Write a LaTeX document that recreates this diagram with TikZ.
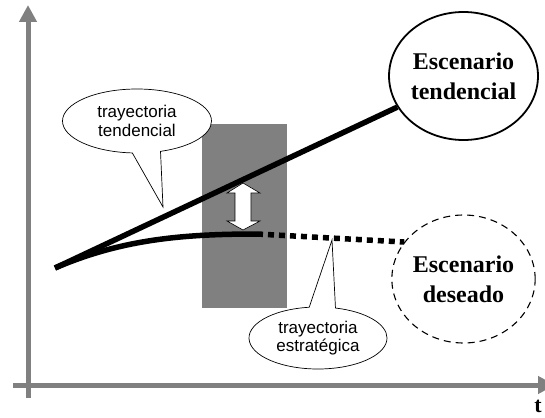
\documentclass[tikz,border=0pt]{standalone}
\usepackage{fontspec}
\setmainfont{Liberation Serif}
\setsansfont{Liberation Sans}
\usepackage{tikz}
\usetikzlibrary{shapes.geometric, shapes.callouts, arrows.meta}
\usetikzlibrary{positioning}

\begin{document}
\begin{tikzpicture}[x=1pt, y=-1pt,
    axis/.style = {line width=5pt, draw=black!50, -{Triangle[width=17pt,length=17pt]}},
    traj/.style = {line width=5.5pt},
    scen/.style = {draw, ellipse, minimum width=137pt, minimum height=128pt, inner sep=0pt,
                   align=center, font=\fontsize{24}{30}\selectfont\bfseries},
    bubble/.style = {draw, ellipse callout, fill=white, line width=0.7pt, inner sep=0pt,
                     callout pointer arc=22, align=center,
                     font=\sffamily\fontsize{17}{18.5}\selectfont}]
  \useasboundingbox (0,0) rectangle (545,417);

  % axes
  \coordinate (ybot) at (28,398);
  \coordinate (ytop) at (28,5);
  \coordinate (xleft) at (13,385);
  \coordinate (xright) at (555,385);
  \draw[axis] (ybot) -- (ytop);
  \draw[axis] (xleft) -- (xright);
  \node[font=\fontsize{22}{22}\selectfont\bfseries, anchor=base, inner sep=0pt] (t) at (538,412) {t};

  % window
  \fill[black!50] (202,124) rectangle (287,308);

  % scenarios
  \node[scen, line width=1.8pt] (tend) at (463.5,76) {Escenario\\tendencial};
  \node[scen, line width=1.1pt, dash pattern=on 7pt off 5pt] (des) at (463.5,279) {Escenario\\deseado};

  % trajectories
  \coordinate (start) at (55,268);
  \coordinate (bend) at (257,234);
  \draw[traj] (start) -- (tend);
  \draw[traj] (start) .. controls (120,240) and (180,234) .. (bend);
  \draw[traj, dash pattern=on 6pt off 5pt] (bend) -- (des.148);

  % gap
  \filldraw[fill=white, draw=black, line width=0.6pt]
    (243,183) -- (260,193) -- (251,193) -- (251,221) -- (260,221) -- (243,230)
    -- (227,221) -- (235,221) -- (235,193) -- (227,193) -- cycle;

  % labels
  \node[bubble, minimum width=149pt, minimum height=64pt,
        callout absolute pointer={(163,207)}] (tlab) at (137,121) {trayectoria\\tendencial};
  \node[bubble, minimum width=138pt, minimum height=62pt,
        callout absolute pointer={(332,240)}] (elab) at (318,338) {trayectoria\\estratégica};
\end{tikzpicture}
\end{document}
